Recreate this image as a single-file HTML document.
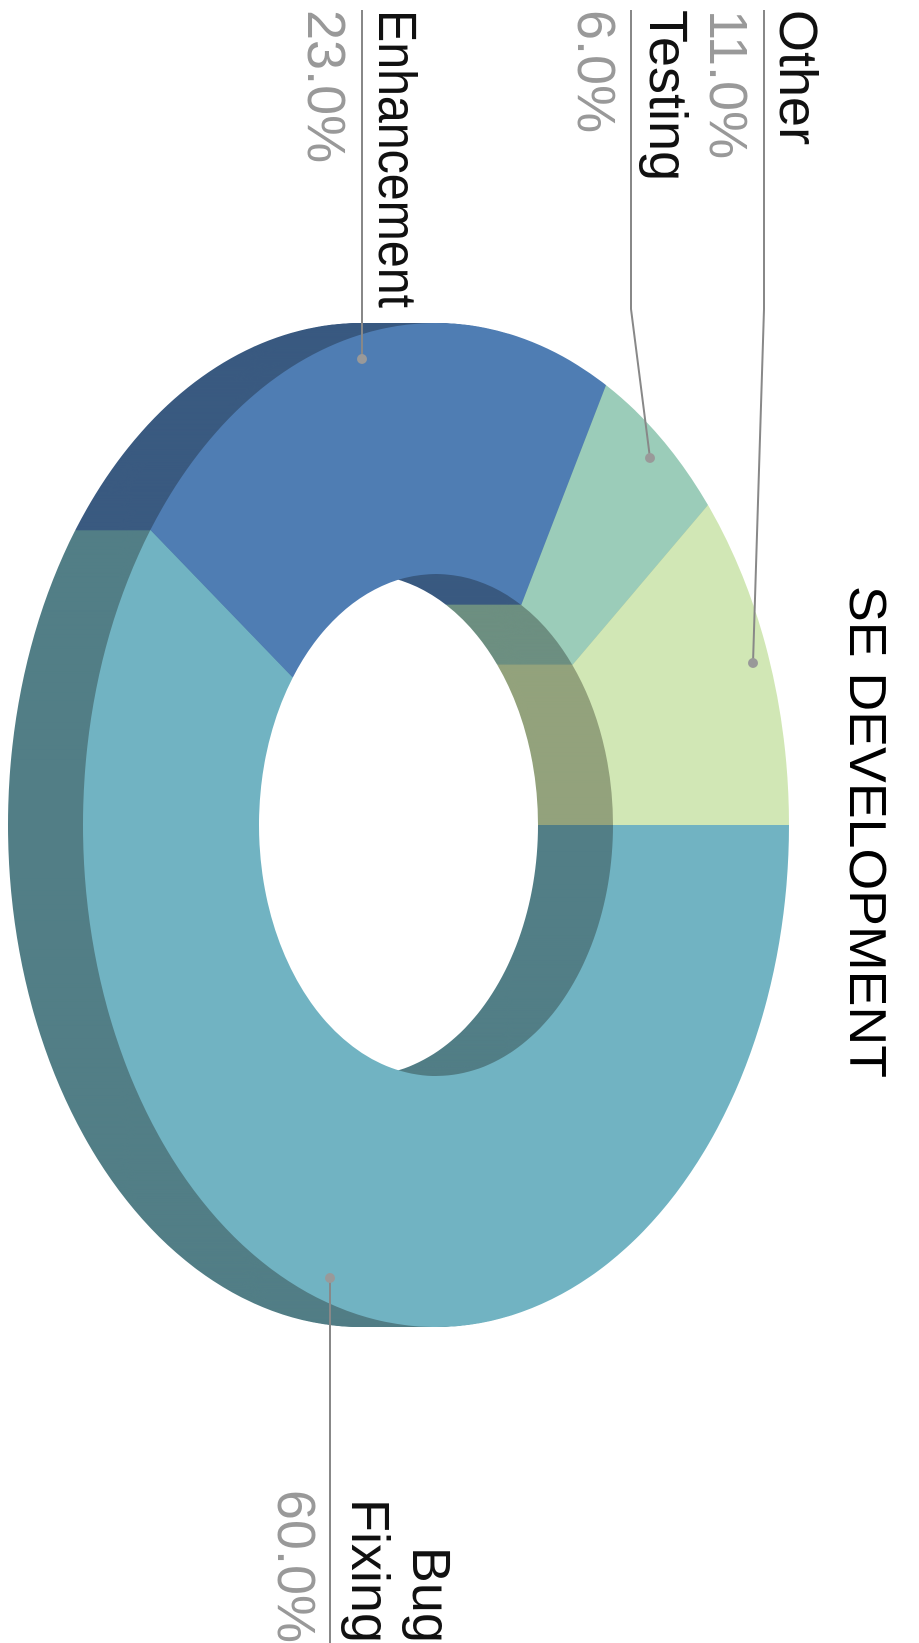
<!DOCTYPE html>
<html><head><meta charset="utf-8"><style>
html,body{margin:0;padding:0;background:#fff;}
svg{display:block;font-family:"Liberation Sans",Arial,sans-serif;}
</style></head><body>
<svg id="chart" width="919" height="1643" viewBox="0 0 919 1643" xmlns="http://www.w3.org/2000/svg">
<g id="rot" transform="translate(919,0) rotate(90)">
<g id="sides"></g>
<g id="tops"></g>
<text x="586" y="69" font-size="52" fill="#000" textLength="492" lengthAdjust="spacingAndGlyphs">SE DEVELOPMENT</text>
<g id="labels"></g>
</g>
</svg>
<script>
const categories = ["Bug Fixing","Enhancement","Testing","Other"];
const values = [60,23,6,11];
const pctLabels = ["60.0%","23.0%","6.0%","11.0%"];
const topColors = ["#71b3c2","#4f7db3","#9bccb9","#d1e7b5"];
const sideColors = ["#527e86","#3a5a80","#6d8f81","#93a27c"];

const NS="http://www.w3.org/2000/svg";
const cx=825, cy=483, rx=502, ry=353, irx=251, iry=177, depth=75;
const total=values.reduce((a,b)=>a+b,0);
function pt(t,a,b,d){return [cx+a*Math.sin(t), cy-b*Math.cos(t)+d];}
function slicePath(t1,t2,d){
  const large=(t2-t1)>Math.PI?1:0;
  const p1=pt(t1,rx,ry,d),p2=pt(t2,rx,ry,d),p3=pt(t2,irx,iry,d),p4=pt(t1,irx,iry,d);
  return `M${p1[0]},${p1[1]} A${rx},${ry} 0 ${large} 1 ${p2[0]},${p2[1]} L${p3[0]},${p3[1]} A${irx},${iry} 0 ${large} 0 ${p4[0]},${p4[1]} Z`;
}
const angles=[];let acc=0;
values.forEach(v=>{const a1=acc/total*2*Math.PI;acc+=v;angles.push([a1,acc/total*2*Math.PI]);});
const sides=document.getElementById('sides'), tops=document.getElementById('tops');
for(let d=depth;d>=1;d--){
  angles.forEach((a,i)=>{
    const p=document.createElementNS(NS,'path');
    p.setAttribute('d',slicePath(a[0],a[1],d));
    p.setAttribute('fill',sideColors[i]);
    
    
    sides.appendChild(p);
  });
}
angles.forEach((a,i)=>{
  const p=document.createElementNS(NS,'path');
  p.setAttribute('d',slicePath(a[0],a[1],0));
  p.setAttribute('fill',topColors[i]);
  
  
  tops.appendChild(p);
});
const labels=document.getElementById('labels');
function txt(x,y,s,fill,anchor){
  const t=document.createElementNS(NS,'text');
  t.setAttribute('x',x);t.setAttribute('y',y);t.setAttribute('font-size','54');
  t.setAttribute('fill',fill);if(anchor)t.setAttribute('text-anchor',anchor);
  t.textContent=s;
  
  
  labels.appendChild(t);return t;
}
function leader(pts,dot){
  const l=document.createElementNS(NS,'polyline');
  l.setAttribute('points',pts.map(p=>p.join(',')).join(' '));
  l.setAttribute('fill','none');l.setAttribute('stroke','#888');l.setAttribute('stroke-width','2');
  
  
  labels.appendChild(l);
  const c=document.createElementNS(NS,'circle');
  c.setAttribute('cx',dot[0]);c.setAttribute('cy',dot[1]);c.setAttribute('r','5');c.setAttribute('fill','#999');
  
  
  labels.appendChild(c);
}
txt(10,139,categories[3],'#111');txt(10,209,pctLabels[3],'#999');
leader([[10,155],[309,155],[663,166]],[663,166]);
txt(10,269,categories[2],'#111');txt(10,341,pctLabels[2],'#999');
leader([[10,288],[309,288],[458,269]],[458,269]);
const enh=txt(10,540,categories[1],'#111');
enh.setAttribute('textLength','298');enh.setAttribute('lengthAdjust','spacingAndGlyphs');
txt(10,611,pctLabels[1],'#999');
leader([[10,557],[359,557]],[359,557]);
txt(1643,506,'Bug','#111','end');txt(1643,567,'Fixing','#111','end');txt(1643,641,pctLabels[0],'#999','end');
leader([[1278,589],[1643,589]],[1278,589]);
</script>
</body></html>
